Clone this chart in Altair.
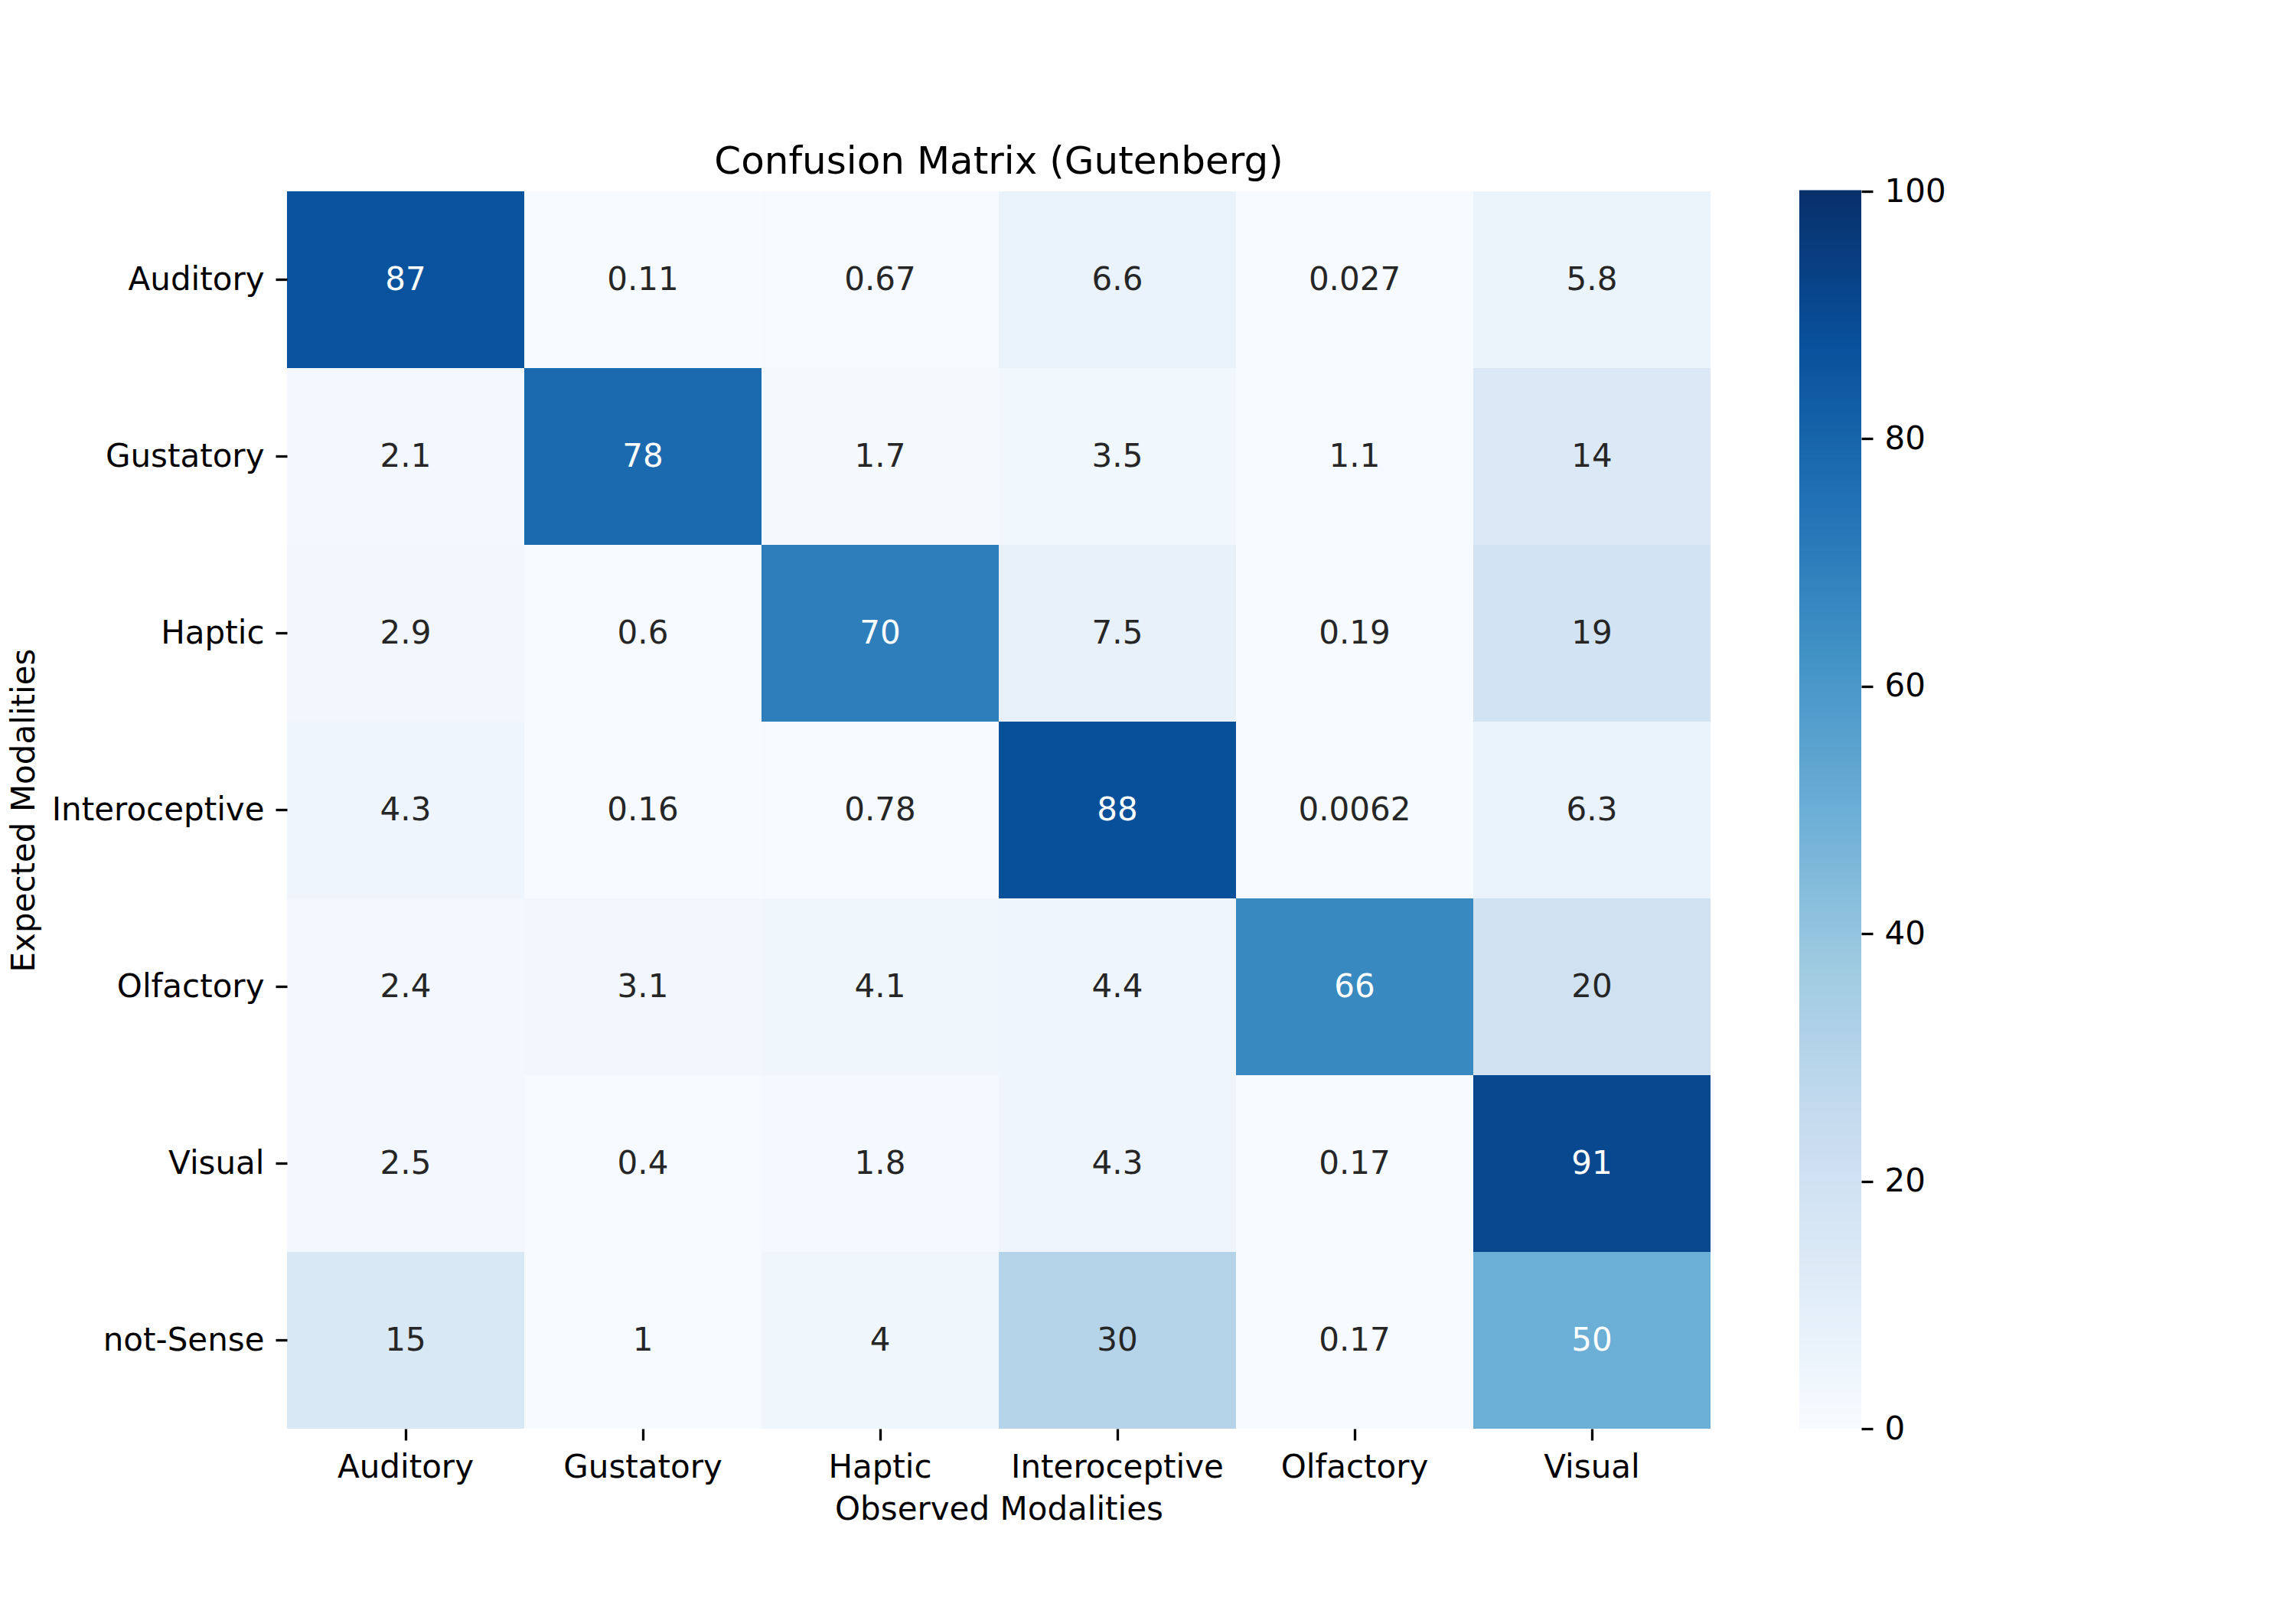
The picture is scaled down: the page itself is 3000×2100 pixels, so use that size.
import altair as alt
import pandas as pd

# ---- data ----
observed = ["Auditory", "Gustatory", "Haptic", "Interoceptive", "Olfactory", "Visual"]
expected = ["Auditory", "Gustatory", "Haptic", "Interoceptive", "Olfactory", "Visual", "not-Sense"]

row_auditory = [87, 0.11, 0.67, 6.6, 0.027, 5.8]
row_gustatory = [2.1, 78, 1.7, 3.5, 1.1, 14]
row_haptic = [2.9, 0.6, 70, 7.5, 0.19, 19]
row_interoceptive = [4.3, 0.16, 0.78, 88, 0.0062, 6.3]
row_olfactory = [2.4, 3.1, 4.1, 4.4, 66, 20]
row_visual = [2.5, 0.4, 1.8, 4.3, 0.17, 91]
row_notsense = [15, 1, 4, 30, 0.17, 50]

colorbar_ticks = [0, 20, 40, 60, 80, 100]
blues = ["#f7fbff", "#deebf7", "#c6dbef", "#9ecae1", "#6baed6",
         "#4292c6", "#2171b5", "#08519c", "#08306b"]
blues_stops = [0, 12.5, 25, 37.5, 50, 62.5, 75, 87.5, 100]

rows = [row_auditory, row_gustatory, row_haptic, row_interoceptive,
        row_olfactory, row_visual, row_notsense]
records = []
for name, row in zip(expected, rows):
    for obs, v in zip(observed, row):
        records.append({"expected": name, "observed": obs, "value": v})
df = pd.DataFrame(records)

FONT = "DejaVu Sans"
color_scale = alt.Scale(domain=blues_stops, range=blues, interpolate="rgb")

base = alt.Chart(df).encode(
    x=alt.X("observed:N", sort=observed, title="Observed Modalities",
            scale=alt.Scale(paddingInner=0, paddingOuter=0),
            axis=alt.Axis(labelAngle=0, labelPadding=15, titlePadding=14,
                          tickSize=15, labelLimit=1000)),
    y=alt.Y("expected:N", sort=expected, title="Expected Modalities",
            scale=alt.Scale(paddingInner=0, paddingOuter=0),
            axis=alt.Axis(labelPadding=15, tickSize=15, labelLimit=1000,
                          titleX=-322, titleBaseline="bottom", titleAngle=270)),
)

rect = base.mark_rect(strokeWidth=0).encode(
    color=alt.Color("value:Q", scale=color_scale, legend=None)
)
text = base.mark_text(font=FONT, fontSize=42).encode(
    text=alt.Text("value:Q", format=".2~g"),
    color=alt.condition("datum.value > 40", alt.value("#ffffff"), alt.value("#262626")),
)

heatmap = alt.layer(rect, text).properties(
    width=1860, height=1617,
    title=alt.TitleParams("Confusion Matrix (Gutenberg)", font=FONT, fontSize=50,
                          fontWeight="normal", color="#000000", anchor="middle",
                          baseline="alphabetic", offset=-27),
)

colorbar = alt.Chart(alt.sequence(0, 100, 0.2, as_="v")).transform_calculate(
    v2="datum.v + 0.3", vc="datum.v + 0.1"
).mark_rect(strokeWidth=0).encode(
    y=alt.Y("v:Q", scale=alt.Scale(domain=[0, 100], nice=False, zero=False),
            axis=alt.Axis(orient="right", values=colorbar_ticks, title=None,
                          tickSize=15, labelPadding=15)),
    y2="v2:Q",
    color=alt.Color("vc:Q", scale=color_scale, legend=None),
).properties(width=81, height=1617)

chart = alt.hconcat(heatmap, colorbar, spacing=116).properties(
    padding={"left": 2, "top": 179, "right": 60, "bottom": 40},
    background="white",
).configure_view(strokeWidth=0).configure_axis(
    labelFont=FONT, labelFontSize=42, labelColor="#000000",
    titleFont=FONT, titleFontSize=42, titleFontWeight="normal", titleColor="#000000",
    tickColor="#000000", tickWidth=3.3, domain=False, grid=False,
)

chart.save("out.html", embed_options={"renderer": "svg", "actions": False})
